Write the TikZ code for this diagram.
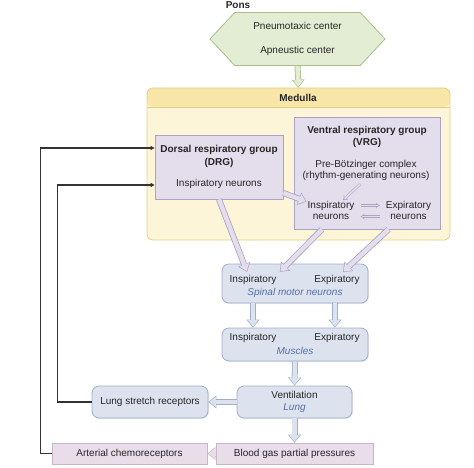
\documentclass[tikz,border=0pt]{standalone}
\usepackage{fontspec}
\setmainfont{Liberation Sans}
\usepackage{xcolor}
\usetikzlibrary{arrows.meta,shapes.symbols,shadows,calc}

\definecolor{ponsfill}{HTML}{E3EDD3}
\definecolor{ponsline}{HTML}{A9BE8C}
\definecolor{medfill}{HTML}{FDF5D8}
\definecolor{medhead}{HTML}{F8E6A8}
\definecolor{medline}{HTML}{E3CF8A}
\definecolor{lavfill}{HTML}{E3DDEC}
\definecolor{lavline}{HTML}{ACA2C4}
\definecolor{bluefill}{HTML}{DCE2EE}
\definecolor{blueline}{HTML}{9FAECB}
\definecolor{maufill}{HTML}{E8DDE8}
\definecolor{mauline}{HTML}{C7B6C8}
\definecolor{bluetxt}{HTML}{5470A6}
\definecolor{txt}{HTML}{262626}

\tikzset{
  every node/.style={font=\fontsize{10}{12}\selectfont, text=txt},
  ttl/.style={font=\fontsize{10}{12}\selectfont\bfseries},
  soft/.style={drop shadow={opacity=0.18, shadow xshift=1pt, shadow yshift=-1pt}},
  ponsbox/.style={signal, signal to=west and east, signal pointer angle=94,
    draw=ponsline, fill=ponsfill, line width=0.8pt, align=center, inner sep=0pt},
  medbox/.style={draw=medline, fill=medfill, line width=0.8pt, rounded corners=6pt,
    path picture={
      \fill[medhead] (path picture bounding box.north west) rectangle ([yshift=-19pt]path picture bounding box.north east);
      \draw[medline, line width=0.8pt] ([yshift=-19pt]path picture bounding box.north west) -- ([yshift=-19pt]path picture bounding box.north east);}},
  lavbox/.style={draw=lavline, fill=lavfill, line width=0.8pt, soft},
  bluebox/.style={draw=blueline, fill=bluefill, line width=0.8pt, rounded corners=7pt, soft},
  maubox/.style={draw=mauline, fill=maufill, line width=0.8pt, soft},
  bluetext/.style={font=\fontsize{10}{12}\selectfont\itshape, text=bluetxt},
  % hollow arrow: fill colour, outline colour
  hollow/.style 2 args={
    preaction={draw=#2, line width=6pt, shorten >=0pt,
      -{Triangle[length=8pt, width=13pt, line width=0pt]}},
    draw=#1, line width=4.4pt, shorten >=0.9pt,
    -{Triangle[length=6.6pt, width=10.4pt, line width=0pt]}},
  lavarrow/.style={hollow={lavfill}{lavline}},
  bluearrow/.style={hollow={bluefill}{blueline}},
  ponsarrow/.style={hollow={ponsfill}{ponsline}},
  mauarrow/.style={hollow={maufill}{mauline}},
  dbl/.style={draw=lavline, double=lavfill, double distance=1.6pt, line width=0.5pt, -{Implies}},
  feedback/.style={draw=black!80, line width=1.2pt, -{Triangle[length=4pt, width=4pt]}}
}

\begin{document}
\begin{tikzpicture}[x=1pt,y=-1pt]
\useasboundingbox (0,0) rectangle (474,468);

% Pons
\node[ttl] (ponslbl) at (238,5) {Pons};
\node[ponsbox, minimum width=175pt, minimum height=53pt] (pons) at (297.5,39)
  {Pneumotaxic center\\[12pt]Apneustic center};

% Medulla
\node[medbox, minimum width=303pt, minimum height=152pt] (medulla) at (298.5,164) {};
\node[ttl] (medlbl) at (298,98) {Medulla};
\draw[ponsarrow] (pons.south) -- (medulla.north);

% DRG
\node[lavbox, minimum width=128pt, minimum height=64pt, align=center] (drg) at (219,167)
  {\textbf{Dorsal respiratory group}\\[1pt]\textbf{(DRG)}\\[9pt]Inspiratory neurons};

% VRG
\node[lavbox, minimum width=146pt, minimum height=112pt] (vrg) at (367,173) {};
\node[ttl, align=center] (vrgttl) at (367,137) {Ventral respiratory group\\(VRG)};
\node[align=center, font=\fontsize{10}{11}\selectfont] (preb) at (366,170.5)
  {Pre-Bötzinger complex\\(rhythm-generating neurons)};
\node[align=center, inner sep=1pt, font=\fontsize{10}{11}\selectfont] (vinsp) at (331,210.5) {Inspiratory\\neurons};
\node[align=center, inner sep=1pt, font=\fontsize{10}{11}\selectfont] (vexp) at (408.5,210.5) {Expiratory\\neurons};
\draw[dbl] ([xshift=-6pt]preb.south) -- ([xshift=12pt]vinsp.north);
\draw[dbl, shorten <=5pt, shorten >=5pt] ([yshift=5pt]vinsp.east) -- ([yshift=5pt]vexp.west);
\draw[dbl, shorten <=5pt, shorten >=5pt] ([yshift=-6pt]vexp.west) -- ([yshift=-6pt]vinsp.east);
\draw[lavarrow] (drg.-22) -- (vinsp.160);

% Spinal motor neurons
\node[bluebox, minimum width=146pt, minimum height=39pt] (spinal) at (295,283.5) {};
\node (sinsp) at (253,280) {Inspiratory};
\node (sexp) at (337,280) {Expiratory};
\node[bluetext] (spinallbl) at (295,293) {Spinal motor neurons};
\draw[lavarrow] (drg.south) -- ([xshift=-6pt]sinsp.north);
\draw[lavarrow] ($(vinsp.south |- vrg.south)+(-9,0)$) -- (sinsp.north east);
\draw[lavarrow] ($(vexp.south |- vrg.south)+(-20,0)$) -- ([xshift=6pt]sexp.north);

% Muscles
\node[bluebox, minimum width=146pt, minimum height=33pt] (muscles) at (295,344.5) {};
\node (minsp) at (253,338) {Inspiratory};
\node (mexp) at (337,338) {Expiratory};
\node[bluetext] (muscleslbl) at (295,351) {Muscles};
\draw[bluearrow] (sinsp.south |- spinal.south) -- (minsp.north |- muscles.north);
\draw[bluearrow] ([xshift=-2pt]sexp.south |- spinal.south) -- ([xshift=-2pt]mexp.north |- muscles.north);

% Ventilation and receptors
\node[bluebox, minimum width=115pt, minimum height=32pt, align=center] (ventil) at (294.5,402)
  {Ventilation\\{\color{bluetxt}\itshape Lung}};
\node[bluebox, minimum width=116pt, minimum height=32pt] (lstretch) at (150,402) {Lung stretch receptors};
\node[maubox, minimum width=157pt, minimum height=21pt] (bgas) at (294.5,453.5) {Blood gas partial pressures};
\node[maubox, minimum width=155pt, minimum height=21pt] (arterial) at (129.5,453.5) {Arterial chemoreceptors};
\draw[bluearrow] (muscles.south) -- (ventil.north);
\draw[bluearrow] (ventil.west) -- (lstretch.east);
\draw[bluearrow] (ventil.south) -- (bgas.north);
\draw[mauarrow] (bgas.west) -- (arterial.east);

% Feedback to DRG
\draw[feedback] (lstretch.west) -- ++(-34,0) |- ([yshift=-18pt]drg.west);
\draw[feedback] (arterial.west) -- ++(-11,0) |- ([yshift=19pt]drg.west);
\end{tikzpicture}
\end{document}
